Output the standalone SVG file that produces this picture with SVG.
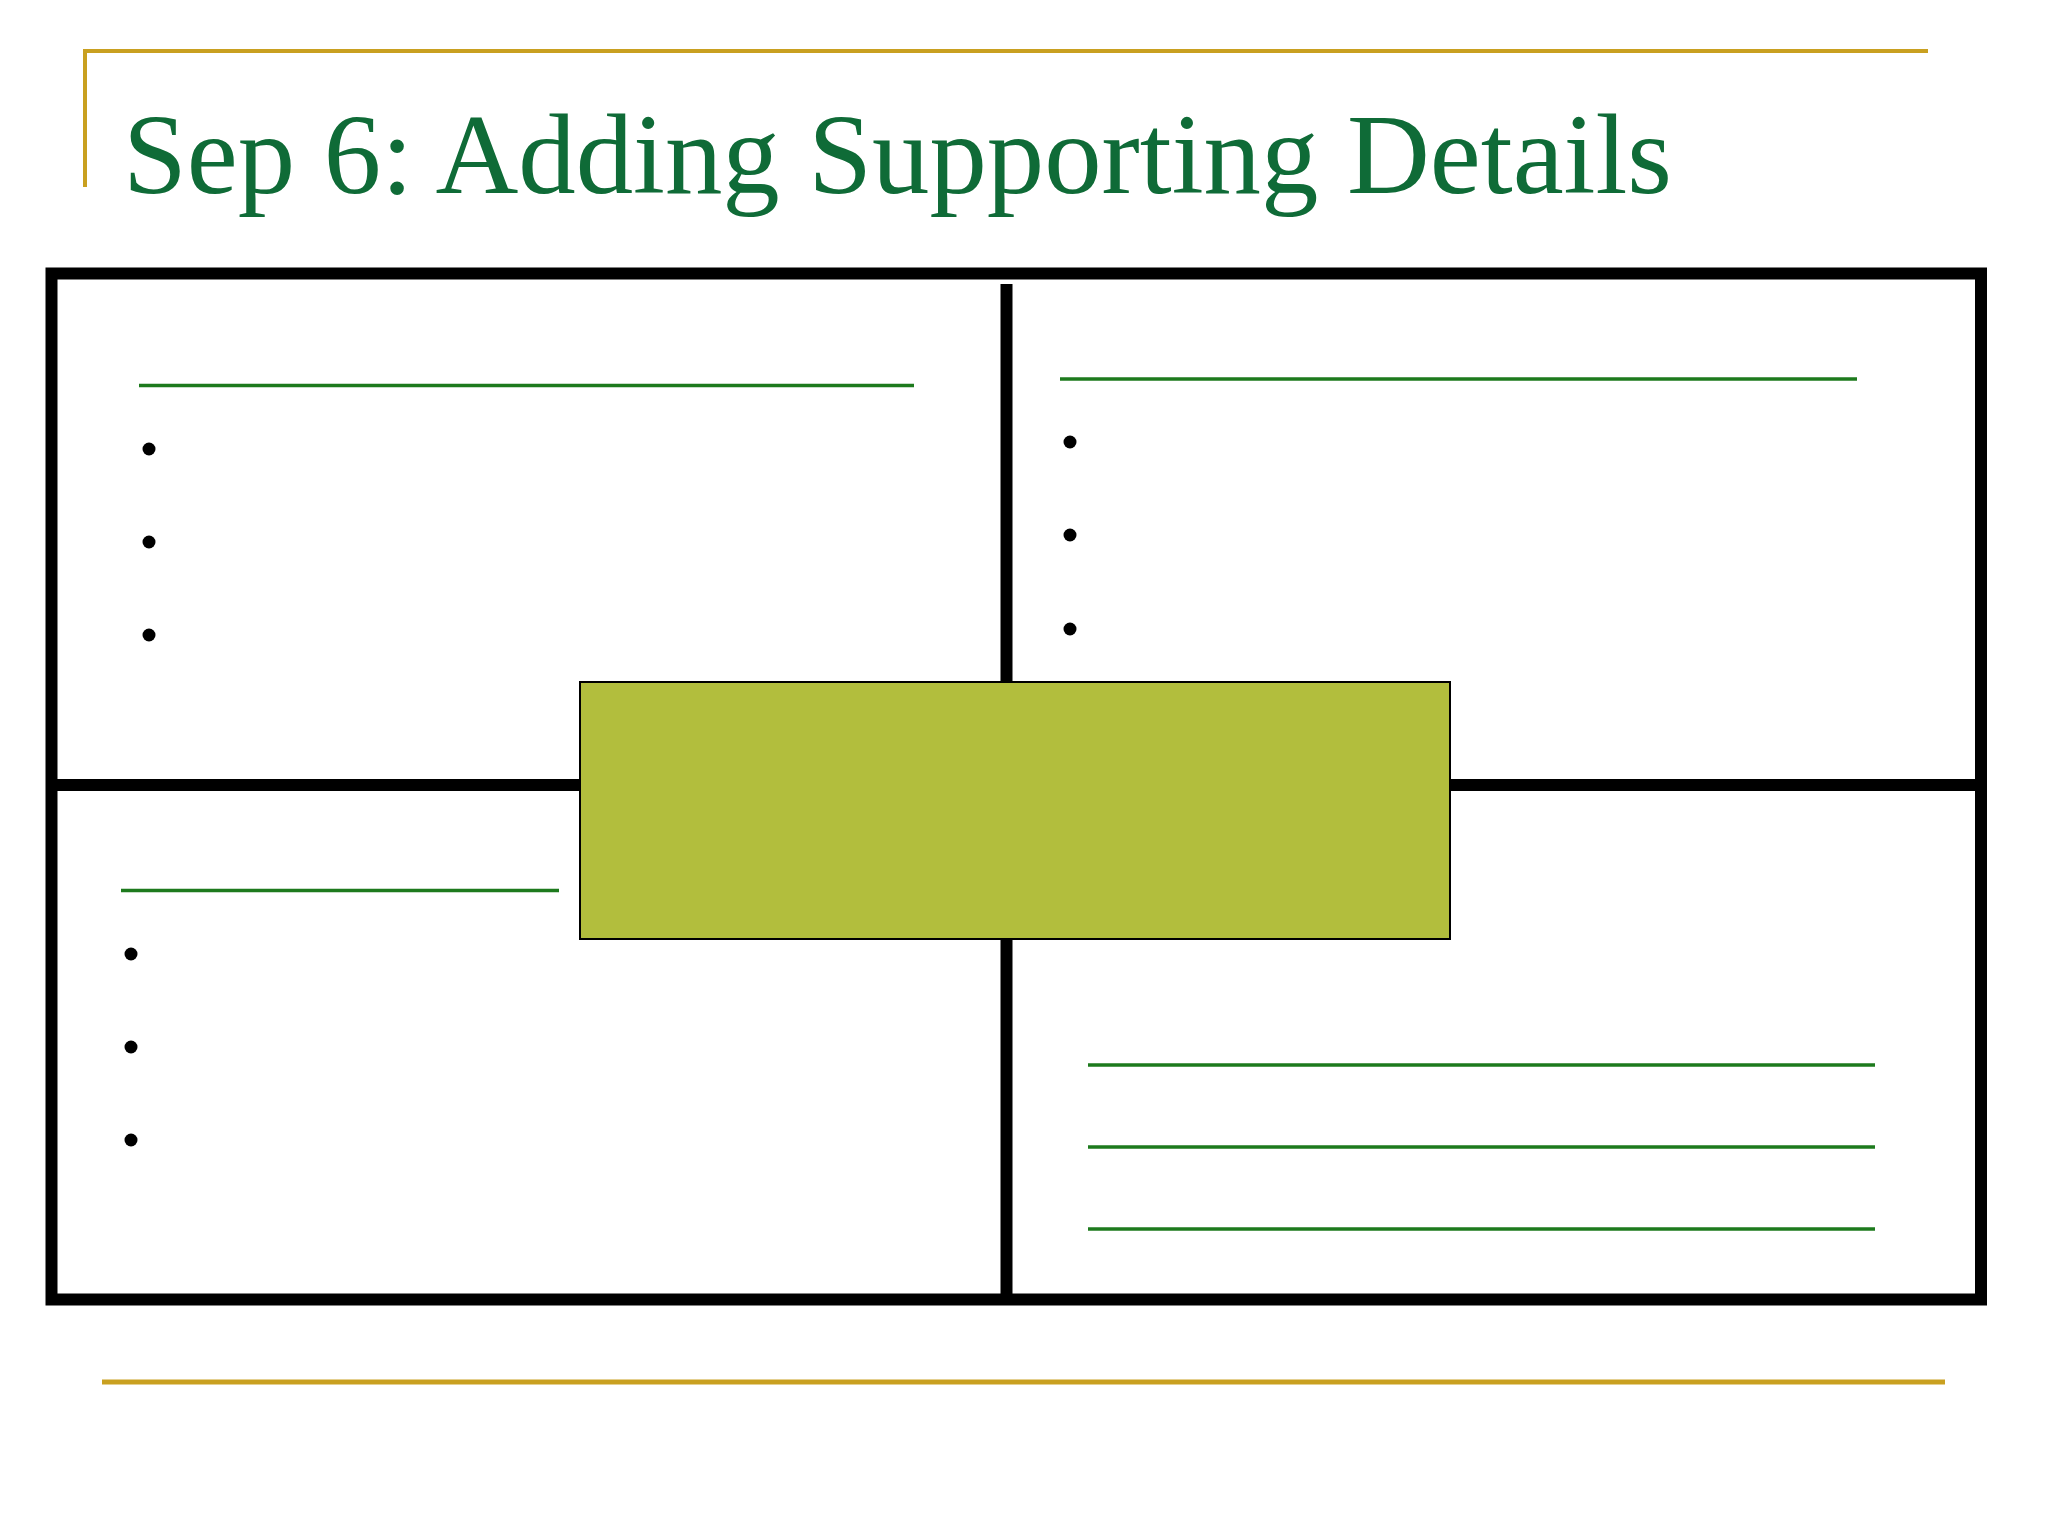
<svg xmlns="http://www.w3.org/2000/svg" width="2048" height="1536" viewBox="0 0 2048 1536">
<style>
.gold{stroke:#C9A020;fill:none}
.frame{stroke:#000;fill:none;stroke-width:12}
.rule{stroke:#1D7A1D;stroke-width:3.5;fill:none}
.dot{fill:#000}
.title{font-family:"Liberation Serif","Times New Roman",serif;fill:#0F6B37}
</style>
<rect x="0" y="0" width="2048" height="1536" fill="#FFFFFF"/>
<g id="decor">
<polyline class="gold" stroke-width="4" points="85,187 85,51 1928,51"/>
<line class="gold" stroke-width="5" x1="102" y1="1382" x2="1945" y2="1382"/>
</g>
<text id="title" class="title" x="123" y="193" font-size="115" textLength="1549" lengthAdjust="spacingAndGlyphs">Sep 6: Adding Supporting Details</text>
<g id="frame">
<rect class="frame" x="51.5" y="273.5" width="1929.5" height="1026"/>
<line class="frame" x1="51.5" y1="785" x2="1981" y2="785"/>
<line class="frame" x1="1006.5" y1="284" x2="1006.5" y2="1299"/>
</g>
<g id="top-left">
<line class="rule" x1="139" y1="385.5" x2="914" y2="385.5"/>
<circle class="dot" cx="149" cy="449" r="6.5"/>
<circle class="dot" cx="149" cy="542" r="6.5"/>
<circle class="dot" cx="149" cy="635" r="6.5"/>
</g>
<g id="top-right">
<line class="rule" x1="1060" y1="379" x2="1857" y2="379"/>
<circle class="dot" cx="1070" cy="442" r="6.5"/>
<circle class="dot" cx="1070" cy="535" r="6.5"/>
<circle class="dot" cx="1070" cy="629" r="6.5"/>
</g>
<g id="bottom-left">
<line class="rule" x1="121" y1="890.5" x2="559" y2="890.5"/>
<circle class="dot" cx="131" cy="954" r="6.5"/>
<circle class="dot" cx="131" cy="1047" r="6.5"/>
<circle class="dot" cx="131" cy="1140" r="6.5"/>
</g>
<g id="bottom-right">
<line class="rule" x1="1088" y1="1065" x2="1875" y2="1065"/>
<line class="rule" x1="1088" y1="1147" x2="1875" y2="1147"/>
<line class="rule" x1="1088" y1="1229" x2="1875" y2="1229"/>
</g>
<g id="center">
<rect x="580" y="682" width="870" height="257" fill="#B2BE3D" stroke="#000" stroke-width="2"/>
</g>
</svg>
